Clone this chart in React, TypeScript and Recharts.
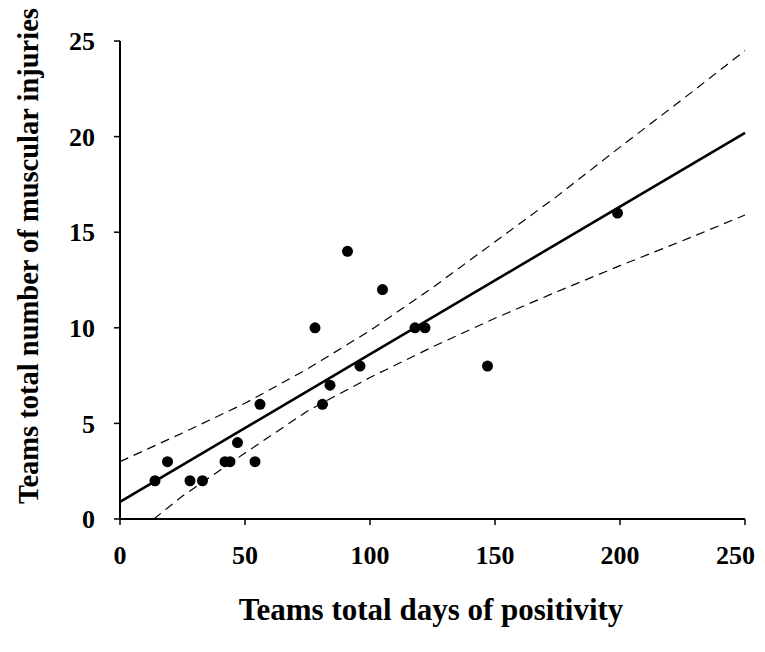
import React from "react";
import { ScatterChart, Scatter, XAxis, YAxis } from "recharts";

// Tick labels
const xTicks = [0, 50, 100, 150, 200, 250];
const yTicks = [0, 5, 10, 15, 20, 25];

// Observed teams (days of positivity vs muscular injuries)
const days = [14, 19, 28, 33, 42, 44, 47, 54, 56, 78, 81, 84, 91, 96, 105, 118, 122, 147, 199];
const injuries = [2, 3, 2, 2, 3, 3, 4, 3, 6, 10, 6, 7, 14, 8, 12, 10, 10, 8, 16];

// Fitted regression line
const fitX = [0, 250];
const fitY = [0.9, 20.2];

// Confidence band curves
const upperX = [0, 25, 50, 75, 100, 125, 150, 175, 200, 225, 250];
const upperY = [3.0, 4.5, 6.05, 7.85, 9.85, 12.1, 14.5, 16.9, 19.45, 21.95, 24.5];
const lowerX = [13.5, 25, 50, 75, 100, 125, 150, 175, 200, 225, 250];
const lowerY = [0, 1.2, 3.45, 5.65, 7.4, 9.0, 10.5, 11.9, 13.25, 14.55, 15.9];

const zip = (xs: number[], ys: number[]) => xs.map((x, i) => ({ x, y: ys[i] }));

const pointData = zip(days, injuries);
const fitData = zip(fitX, fitY);
const upperData = zip(upperX, upperY);
const lowerData = zip(lowerX, lowerY);

const FONT = "'Liberation Serif', 'Times New Roman', serif";

const Dot = (props: any) => <circle cx={props.cx} cy={props.cy} r={5.5} fill="#000" />;
const NoShape = () => <g />;

const XTick = (props: any) => {
  const { x, y, payload } = props;
  const label = String(payload.value);
  const half = (label.length * 13) / 2;
  const cx = Math.min(x, 755 - half);
  return (
    <text x={cx} y={y} dy="0.71em" textAnchor="middle" fontFamily={FONT} fontWeight="bold" fontSize={26} fill="#000">
      {label}
    </text>
  );
};

const XTitle = () => (
  <text x={431} y={620} textAnchor="middle" fontFamily={FONT} fontWeight="bold" fontSize={31} fill="#000">
    Teams total days of positivity
  </text>
);

const YTitle = () => (
  <text
    x={38}
    y={256}
    textAnchor="middle"
    transform="rotate(-90, 38, 256)"
    fontFamily={FONT}
    fontWeight="bold"
    fontSize={28.5}
    fill="#000"
  >
    Teams total number of muscular injuries
  </text>
);

export default function App() {
  return (
    <div style={{ width: 765, height: 652, margin: "-8px 0 0 -8px", overflow: "hidden" }}>
      <ScatterChart width={765} height={652} margin={{ top: 41, right: 20, bottom: 73, left: 60 }}>
        <XAxis
          type="number"
          dataKey="x"
          domain={[0, 250]}
          ticks={xTicks}
          height={60}
          interval={0}
          axisLine={{ stroke: "#000", strokeWidth: 2 }}
          tickLine={{ stroke: "#000", strokeWidth: 1.5 }}
          tickSize={6}
          tickMargin={21}
          tick={<XTick />}
          label={<XTitle />}
        />
        <YAxis
          type="number"
          dataKey="y"
          domain={[0, 25]}
          ticks={yTicks}
          width={60}
          interval={0}
          axisLine={{ stroke: "#000", strokeWidth: 2 }}
          tickLine={{ stroke: "#000", strokeWidth: 1.5 }}
          tickSize={6}
          tickMargin={19}
          tick={{ fill: "#000", fontFamily: FONT, fontWeight: "bold", fontSize: 26 }}
          label={<YTitle />}
        />
        <Scatter
          data={upperData}
          line={{ stroke: "#000", strokeWidth: 1.2, strokeDasharray: "9 6" }}
          shape={NoShape}
          isAnimationActive={false}
        />
        <Scatter
          data={lowerData}
          line={{ stroke: "#000", strokeWidth: 1.2, strokeDasharray: "9 6" }}
          shape={NoShape}
          isAnimationActive={false}
        />
        <Scatter
          data={fitData}
          line={{ stroke: "#000", strokeWidth: 2.6 }}
          shape={NoShape}
          isAnimationActive={false}
        />
        <Scatter data={pointData} shape={Dot} isAnimationActive={false} />
      </ScatterChart>
    </div>
  );
}
